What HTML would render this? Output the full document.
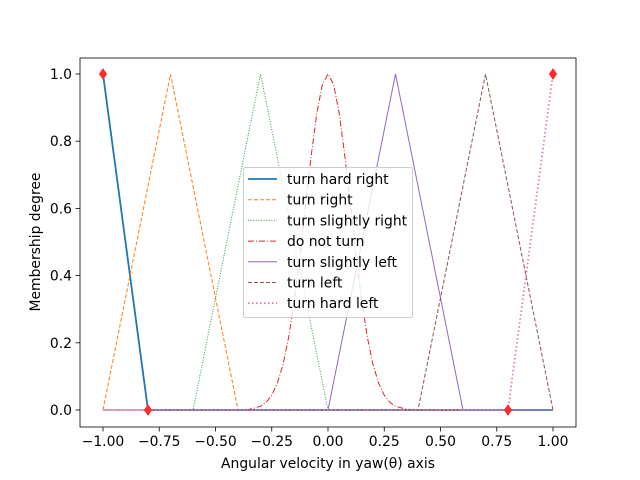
<!DOCTYPE html>
<html><head><meta charset="utf-8"><style>
body{margin:0;background:#fff;}
svg{display:block;font-family:"DejaVu Sans","Liberation Sans",sans-serif;}
</style></head><body>
<svg id="chart" width="640" height="480">
<rect width="640" height="480" fill="#fff"/>
</svg>
<script>
const xTicks=[-1,-0.75,-0.5,-0.25,0,0.25,0.5,0.75,1];
const xTickLabels=["−1.00","−0.75","−0.50","−0.25","0.00","0.25","0.50","0.75","1.00"];
const yTicks=[0,0.2,0.4,0.6,0.8,1.0];
const yTickLabels=["0.0","0.2","0.4","0.6","0.8","1.0"];
const hardRightX=[-1,-0.8,1];const hardRightY=[1,0,0];
const rightX=[-1,-0.7,-0.4,1];const rightY=[0,1,0,0];
const slRightX=[-1,-0.6,-0.3,0,1];const slRightY=[0,0,1,0,0];
const noTurnX=[-1,-0.4,-0.35,-0.3,-0.275,-0.25,-0.225,-0.2,-0.175,-0.15,-0.125,-0.1,-0.075,-0.05,-0.025,0,0.025,0.05,0.075,0.1,0.125,0.15,0.175,0.2,0.225,0.25,0.275,0.3,0.35,0.4,1];
const noTurnY=[0,0,0.002,0.011,0.023,0.044,0.080,0.135,0.216,0.325,0.458,0.607,0.755,0.882,0.969,1,0.969,0.882,0.755,0.607,0.458,0.325,0.216,0.135,0.080,0.044,0.023,0.011,0.002,0,0];
const slLeftX=[-1,0,0.3,0.6,1];const slLeftY=[0,0,1,0,0];
const leftX=[-1,0.4,0.7,1];const leftY=[0,0,1,0];
const hardLeftX=[-1,0.8,1];const hardLeftY=[0,0,1];
const markerX=[-1,-0.8,0.8,1];const markerY=[1,0,0,1];
const seriesNames=["turn hard right","turn right","turn slightly right","do not turn","turn slightly left","turn left","turn hard left"];

const NS="http://www.w3.org/2000/svg";
const svg=document.getElementById('chart');
const L=80,R=576,T=58,B=427;
const FS=13.9;
const sx=v=>103+(v+1)*225;
const sy=v=>410-v*336;
function mk(tag,attrs,parent){const e=document.createElementNS(NS,tag);for(const k in attrs)e.setAttribute(k,attrs[k]);(parent||svg).appendChild(e);return e;}
const styles=[
 {c:"#1f77b4",w:1.8,d:""},
 {c:"#ff7f0e",w:1,d:"4,2"},
 {c:"#2ca02c",w:1,d:"1,1.6"},
 {c:"#d62728",w:1,d:"6,2,1,2"},
 {c:"#9467bd",w:1,d:""},
 {c:"#8c564b",w:1,d:"4,2"},
 {c:"#e377c2",w:1.8,d:"1.5,2.5"}];
const sets=[[hardRightX,hardRightY],[rightX,rightY],[slRightX,slRightY],[noTurnX,noTurnY],[slLeftX,slLeftY],[leftX,leftY],[hardLeftX,hardLeftY]];
const names=["series-turn-hard-right","series-turn-right","series-turn-slightly-right","series-do-not-turn","series-turn-slightly-left","series-turn-left","series-turn-hard-left"];
sets.forEach((s,i)=>{
 const pts=s[0].map((x,j)=>sx(x)+","+sy(s[1][j])).join(" ");
 const p=mk('polyline',{points:pts,fill:"none",stroke:styles[i].c,"stroke-width":styles[i].w,"stroke-dasharray":styles[i].d});
 
 
});
markerX.forEach((x,i)=>{
 const cx=sx(x),cy=sy(markerY[i]);
 const m=mk('polygon',{points:`${cx},${cy-5} ${cx+3.5},${cy} ${cx},${cy+5} ${cx-3.5},${cy}`,fill:"#ff2a2a",stroke:"#ff2a2a"});
 
 
});
const frame=mk('rect',{x:L,y:T,width:R-L,height:B-T,fill:"none",stroke:"#000","stroke-width":0.8});


xTicks.forEach((v,i)=>{
 mk('line',{x1:sx(v),x2:sx(v),y1:B,y2:B+4.5,stroke:"#000","stroke-width":0.8});
 const t=mk('text',{x:sx(v),y:B+19,"text-anchor":"middle","font-size":FS});t.textContent=xTickLabels[i];
 
 
});
yTicks.forEach((v,i)=>{
 mk('line',{x1:L-4.5,x2:L,y1:sy(v),y2:sy(v),stroke:"#000","stroke-width":0.8});
 const t=mk('text',{x:L-8,y:sy(v)+5,"text-anchor":"end","font-size":FS});t.textContent=yTickLabels[i];
 
 
});
const xt=mk('text',{x:328,y:468,"text-anchor":"middle","font-size":FS});xt.textContent="Angular velocity in yaw(θ) axis";


const yt=mk('text',{x:40,y:242,"text-anchor":"middle","font-size":FS,transform:"rotate(-90 40 242)"});yt.textContent="Membership degree";


const lg=mk('g',{});


mk('rect',{x:243.5,y:167.5,width:169,height:150,rx:2,fill:"#fff","fill-opacity":0.8,stroke:"#ccc"},lg);
seriesNames.forEach((n,i)=>{
 const y=179+i*20.7;
 mk('line',{x1:248,x2:277,y1:y,y2:y,stroke:styles[i].c,"stroke-width":styles[i].w,"stroke-dasharray":styles[i].d},lg);
 const t=mk('text',{x:287,y:y+5,"font-size":FS},lg);t.textContent=n;
 
 
});
</script>
</body></html>
